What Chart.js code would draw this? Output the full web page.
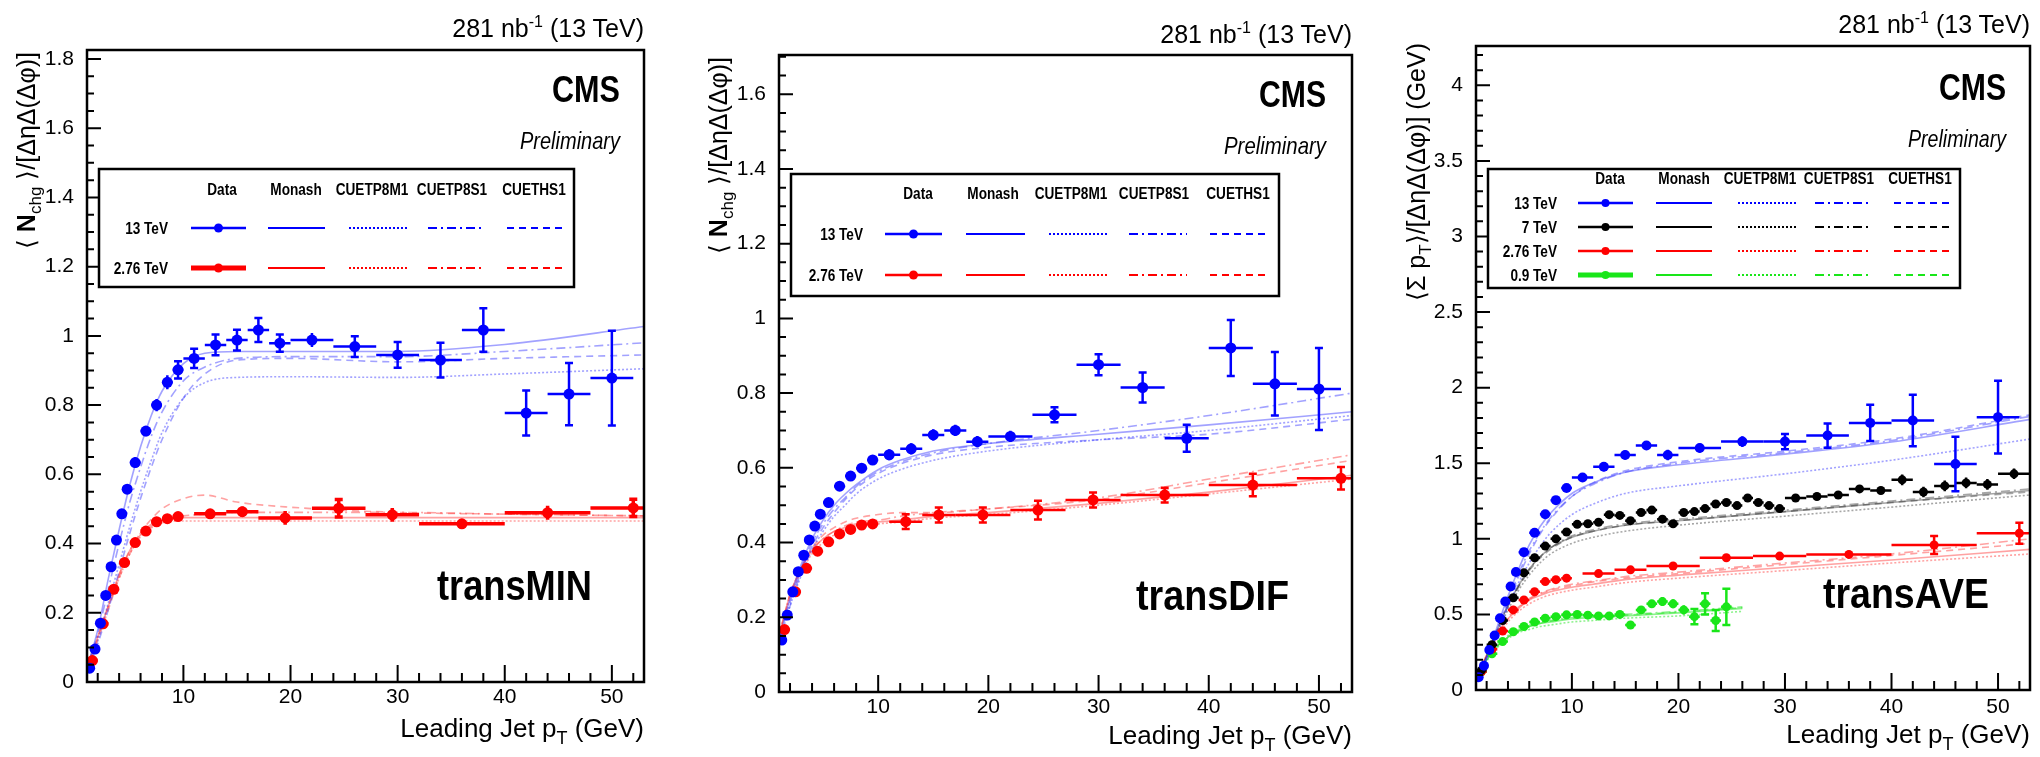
<!DOCTYPE html>
<html>
<head>
<meta charset="utf-8">
<title>CMS UE transMIN / transDIF / transAVE</title>
<script src="https://cdn.jsdelivr.net/npm/chart.js@4.4.1/dist/chart.umd.min.js"></script>
<style>
  html, body { margin: 0; padding: 0; background: #fff; }
  #page { position: relative; width: 2040px; height: 757px; overflow: hidden; background: #fff; }
  #page canvas { position: absolute; top: 0; }
  #overlay { position: absolute; left: 0; top: 0; pointer-events: none; }
  #overlay text { font-family: "Liberation Sans", Arial, Helvetica, sans-serif; fill: #000; }
</style>
</head>
<body>
<div id="page">
  <canvas id="transMin" width="680" height="757" style="left:0px"></canvas>
  <canvas id="transDif" width="680" height="757" style="left:680px"></canvas>
  <canvas id="transAve" width="680" height="757" style="left:1360px"></canvas>
  <svg id="overlay" width="2040" height="757" xmlns="http://www.w3.org/2000/svg">
    <!-- panel 1 -->
    <text x="644" y="37" font-size="25" text-anchor="end">281 nb<tspan dy="-10" font-size="16">-1</tspan><tspan dy="10"> (13 TeV)</tspan></text>
    <text x="620" y="102" font-size="36" font-weight="bold" text-anchor="end" textLength="68" lengthAdjust="spacingAndGlyphs">CMS</text>
    <text x="620" y="149" font-size="24" font-style="italic" text-anchor="end" textLength="100" lengthAdjust="spacingAndGlyphs">Preliminary</text>
    <text x="592" y="600" font-size="42" font-weight="bold" text-anchor="end" textLength="155" lengthAdjust="spacingAndGlyphs">transMIN</text>
    <text x="644" y="737" font-size="26" text-anchor="end">Leading Jet p<tspan font-size="18" dy="7">T</tspan><tspan dy="-7"> (GeV)</tspan></text>
    <text transform="translate(35,52) rotate(-90)" font-size="25" text-anchor="end">⟨ <tspan font-weight="bold">N</tspan><tspan font-size="17" dy="6">chg</tspan><tspan dy="-6"> ⟩/[ΔηΔ(Δφ)]</tspan></text>

    <!-- panel 2 -->
    <text x="1352" y="43" font-size="25" text-anchor="end">281 nb<tspan dy="-10" font-size="16">-1</tspan><tspan dy="10"> (13 TeV)</tspan></text>
    <text x="1326" y="107" font-size="36" font-weight="bold" text-anchor="end" textLength="67" lengthAdjust="spacingAndGlyphs">CMS</text>
    <text x="1326" y="154" font-size="24" font-style="italic" text-anchor="end" textLength="102" lengthAdjust="spacingAndGlyphs">Preliminary</text>
    <text x="1289" y="610" font-size="42" font-weight="bold" text-anchor="end" textLength="153" lengthAdjust="spacingAndGlyphs">transDIF</text>
    <text x="1352" y="744" font-size="26" text-anchor="end">Leading Jet p<tspan font-size="18" dy="7">T</tspan><tspan dy="-7"> (GeV)</tspan></text>
    <text transform="translate(727,57) rotate(-90)" font-size="25" text-anchor="end">⟨ <tspan font-weight="bold">N</tspan><tspan font-size="17" dy="6">chg</tspan><tspan dy="-6"> ⟩/[ΔηΔ(Δφ)]</tspan></text>

    <!-- panel 3 -->
    <text x="2030" y="33" font-size="25" text-anchor="end">281 nb<tspan dy="-10" font-size="16">-1</tspan><tspan dy="10"> (13 TeV)</tspan></text>
    <text x="2006" y="100" font-size="36" font-weight="bold" text-anchor="end" textLength="67" lengthAdjust="spacingAndGlyphs">CMS</text>
    <text x="2006" y="147" font-size="24" font-style="italic" text-anchor="end" textLength="98" lengthAdjust="spacingAndGlyphs">Preliminary</text>
    <text x="1989" y="608" font-size="42" font-weight="bold" text-anchor="end" textLength="166" lengthAdjust="spacingAndGlyphs">transAVE</text>
    <text x="2030" y="743" font-size="26" text-anchor="end">Leading Jet p<tspan font-size="18" dy="7">T</tspan><tspan dy="-7"> (GeV)</tspan></text>
    <text transform="translate(1425,43) rotate(-90)" font-size="25" text-anchor="end">⟨Σ p<tspan font-size="17" dy="6">T</tspan><tspan dy="-6">⟩/[ΔηΔ(Δφ)]  (GeV)</tspan></text>
  </svg>
</div>

<script>
"use strict";

// ---- x bins (leading jet pT, GeV) ----
var pt13 = [1.25, 1.75, 2.25, 2.75, 3.25, 3.75, 4.25, 4.75, 5.5, 6.5, 7.5, 8.5, 9.5, 11, 13, 15, 17, 19, 22, 26, 30, 34, 38, 42, 46, 50];
var halfW13 = [0.25, 0.25, 0.25, 0.25, 0.25, 0.25, 0.25, 0.25, 0.5, 0.5, 0.5, 0.5, 0.5, 1, 1, 1, 1, 1, 2, 2, 2, 2, 2, 2, 2, 2];
var pt276 = [1.5, 2.5, 3.5, 4.5, 5.5, 6.5, 7.5, 8.5, 9.5, 12.5, 15.5, 19.5, 24.5, 29.5, 36, 44, 52];
var halfW276 = [0.5, 0.5, 0.5, 0.5, 0.5, 0.5, 0.5, 0.5, 0.5, 1.5, 1.5, 2.5, 2.5, 2.5, 4, 4, 4];
var pt7 = [1.5, 2.5, 3.5, 4.5, 5.5, 6.5, 7.5, 8.5, 9.5, 10.5, 11.5, 12.5, 13.5, 14.5, 15.5, 16.5, 17.5, 18.5, 19.5, 20.5,
           21.5, 22.5, 23.5, 24.5, 25.5, 26.5, 27.5, 28.5, 29.5, 31, 33, 35, 37, 39, 41, 43, 45, 47, 49, 51.5];
var halfW7 = [0.5, 0.5, 0.5, 0.5, 0.5, 0.5, 0.5, 0.5, 0.5, 0.5, 0.5, 0.5, 0.5, 0.5, 0.5, 0.5, 0.5, 0.5, 0.5, 0.5,
              0.5, 0.5, 0.5, 0.5, 0.5, 0.5, 0.5, 0.5, 0.5, 1, 1, 1, 1, 1, 1, 1, 1, 1, 1, 1.5];
var pt09 = [1.5, 2.5, 3.5, 4.5, 5.5, 6.5, 7.5, 8.5, 9.5, 10.5, 11.5, 12.5, 13.5, 14.5, 15.5, 16.5, 17.5, 18.5, 19.5, 20.5, 21.5, 22.5, 23.5, 24.5];
var halfW09 = [0.5, 0.5, 0.5, 0.5, 0.5, 0.5, 0.5, 0.5, 0.5, 0.5, 0.5, 0.5, 0.5, 0.5, 0.5, 0.5, 0.5, 0.5, 0.5, 0.5, 0.5, 0.5, 0.5, 0.5];

// ---- transMIN data ----
var minVal13 = [0.04, 0.095, 0.17, 0.25, 0.333, 0.41, 0.486, 0.557, 0.634, 0.725, 0.80, 0.866, 0.902, 0.935, 0.974, 0.988, 1.017, 0.979, 0.988, 0.969, 0.945, 0.93, 1.017, 0.777, 0.832, 0.878];
var minErr13 = [0.005, 0.006, 0.008, 0.01, 0.01, 0.012, 0.012, 0.013, 0.015, 0.015, 0.018, 0.02, 0.025, 0.028, 0.03, 0.03, 0.035, 0.025, 0.02, 0.03, 0.037, 0.05, 0.063, 0.065, 0.09, 0.137];
var minVal276 = [0.062, 0.168, 0.268, 0.345, 0.403, 0.436, 0.463, 0.472, 0.478, 0.486, 0.492, 0.474, 0.502, 0.483, 0.457, 0.489, 0.503];
var minErr276 = [0.008, 0.01, 0.01, 0.012, 0.01, 0.01, 0.012, 0.012, 0.013, 0.013, 0.015, 0.02, 0.025, 0.02, 0.012, 0.02, 0.025];

// ---- transDIF data ----
var difVal13 = [0.139, 0.206, 0.268, 0.322, 0.366, 0.407, 0.444, 0.476, 0.507, 0.551, 0.578, 0.599, 0.621, 0.635, 0.651, 0.688, 0.70, 0.67, 0.684, 0.742, 0.876, 0.815, 0.679, 0.921, 0.825, 0.811];
var difErr13 = [0.005, 0.006, 0.008, 0.008, 0.01, 0.01, 0.01, 0.01, 0.012, 0.012, 0.012, 0.012, 0.012, 0.015, 0.015, 0.015, 0.015, 0.015, 0.015, 0.02, 0.028, 0.04, 0.036, 0.075, 0.085, 0.11];
var difVal276 = [0.167, 0.268, 0.331, 0.377, 0.402, 0.423, 0.435, 0.447, 0.45, 0.456, 0.474, 0.474, 0.487, 0.514, 0.527, 0.554, 0.572];
var difErr276 = [0.01, 0.01, 0.01, 0.01, 0.01, 0.01, 0.01, 0.01, 0.012, 0.02, 0.02, 0.02, 0.025, 0.02, 0.02, 0.03, 0.03];

// ---- transAVE data ----
var aveVal13 = [0.085, 0.16, 0.265, 0.36, 0.475, 0.585, 0.685, 0.78, 0.912, 1.04, 1.163, 1.256, 1.336, 1.406, 1.477, 1.555, 1.617, 1.555, 1.601, 1.643, 1.643, 1.683, 1.767, 1.783, 1.495, 1.805];
var aveErr13 = [0.005, 0.01, 0.01, 0.01, 0.015, 0.015, 0.015, 0.02, 0.02, 0.02, 0.02, 0.025, 0.025, 0.025, 0.03, 0.03, 0.03, 0.035, 0.03, 0.035, 0.05, 0.08, 0.12, 0.17, 0.18, 0.24];
var aveVal7 = [0.13, 0.30, 0.46, 0.61, 0.775, 0.875, 0.952, 1.0, 1.045, 1.096, 1.10, 1.11, 1.16, 1.155, 1.12, 1.174, 1.19, 1.13, 1.10, 1.174,
               1.18, 1.20, 1.23, 1.24, 1.22, 1.27, 1.24, 1.22, 1.20, 1.27, 1.28, 1.29, 1.33, 1.32, 1.39, 1.31, 1.35, 1.37, 1.36, 1.43];
var aveErr7 = [0.01, 0.01, 0.01, 0.01, 0.01, 0.01, 0.01, 0.01, 0.015, 0.015, 0.015, 0.015, 0.015, 0.015, 0.015, 0.015, 0.015, 0.015, 0.015, 0.015,
               0.02, 0.02, 0.02, 0.02, 0.02, 0.02, 0.02, 0.02, 0.02, 0.025, 0.025, 0.025, 0.025, 0.025, 0.035, 0.035, 0.035, 0.035, 0.035, 0.035];
var aveVal276 = [0.12, 0.27, 0.39, 0.53, 0.595, 0.65, 0.717, 0.73, 0.74, 0.77, 0.795, 0.82, 0.875, 0.886, 0.897, 0.959, 1.037];
var aveErr276 = [0.01, 0.01, 0.01, 0.01, 0.01, 0.015, 0.015, 0.015, 0.015, 0.02, 0.02, 0.02, 0.025, 0.025, 0.025, 0.06, 0.07];
var aveVal09 = [0.12, 0.24, 0.32, 0.385, 0.42, 0.45, 0.475, 0.485, 0.497, 0.50, 0.495, 0.49, 0.49, 0.50, 0.43, 0.53, 0.57, 0.585, 0.57, 0.53, 0.485, 0.57, 0.46, 0.55];
var aveErr09 = [0.01, 0.01, 0.01, 0.01, 0.01, 0.01, 0.01, 0.01, 0.015, 0.015, 0.015, 0.015, 0.015, 0.015, 0.02, 0.02, 0.02, 0.03, 0.03, 0.03, 0.05, 0.07, 0.07, 0.12];

// ---- MC predictions (Monash, CUETP8M1, CUETP8S1, CUETHS1) ----
var mcPt = [1, 2, 3, 4, 5, 6, 7, 8, 10, 12, 15, 20, 30, 40, 53];
var mcPt09 = [1, 2, 3, 4, 5, 6, 7, 8, 10, 12, 15, 20, 26];

var minMonash13 = [0.04, 0.15, 0.30, 0.44, 0.57, 0.68, 0.77, 0.84, 0.92, 0.95, 0.955, 0.955, 0.955, 0.975, 1.027];
var minM113 = [0.03, 0.12, 0.23, 0.34, 0.45, 0.55, 0.64, 0.72, 0.82, 0.865, 0.88, 0.882, 0.88, 0.89, 0.905];
var minS113 = [0.04, 0.14, 0.27, 0.40, 0.52, 0.62, 0.71, 0.78, 0.87, 0.91, 0.935, 0.94, 0.94, 0.955, 0.98];
var minHs113 = [0.03, 0.11, 0.21, 0.32, 0.43, 0.53, 0.62, 0.70, 0.82, 0.89, 0.93, 0.935, 0.925, 0.935, 0.945];
var minMonash276 = [0.04, 0.13, 0.22, 0.31, 0.38, 0.425, 0.45, 0.465, 0.475, 0.475, 0.475, 0.475, 0.475, 0.475, 0.475];
var minM1276 = [0.04, 0.13, 0.22, 0.30, 0.37, 0.42, 0.445, 0.46, 0.465, 0.465, 0.465, 0.465, 0.465, 0.465, 0.465];
var minS1276 = [0.04, 0.13, 0.22, 0.31, 0.38, 0.43, 0.455, 0.47, 0.48, 0.485, 0.49, 0.49, 0.49, 0.485, 0.48];
var minHs1276 = [0.04, 0.12, 0.21, 0.30, 0.37, 0.43, 0.47, 0.50, 0.53, 0.54, 0.52, 0.505, 0.49, 0.485, 0.48];

var difMonash13 = [0.14, 0.25, 0.34, 0.41, 0.46, 0.50, 0.53, 0.555, 0.595, 0.62, 0.645, 0.665, 0.69, 0.715, 0.75];
var difM113 = [0.13, 0.23, 0.31, 0.38, 0.43, 0.47, 0.50, 0.53, 0.57, 0.595, 0.62, 0.645, 0.675, 0.70, 0.74];
var difS113 = [0.14, 0.24, 0.33, 0.40, 0.45, 0.49, 0.52, 0.55, 0.59, 0.615, 0.64, 0.665, 0.70, 0.74, 0.80];
var difHs113 = [0.13, 0.23, 0.32, 0.39, 0.44, 0.48, 0.515, 0.545, 0.585, 0.61, 0.635, 0.655, 0.675, 0.69, 0.73];
var difMonash276 = [0.15, 0.26, 0.33, 0.38, 0.41, 0.43, 0.44, 0.45, 0.455, 0.46, 0.47, 0.48, 0.505, 0.535, 0.58];
var difM1276 = [0.15, 0.25, 0.32, 0.37, 0.40, 0.42, 0.435, 0.445, 0.45, 0.455, 0.465, 0.475, 0.50, 0.53, 0.57];
var difS1276 = [0.15, 0.26, 0.33, 0.38, 0.41, 0.43, 0.445, 0.455, 0.46, 0.47, 0.48, 0.49, 0.52, 0.57, 0.635];
var difHs1276 = [0.15, 0.26, 0.33, 0.385, 0.42, 0.44, 0.455, 0.465, 0.475, 0.48, 0.48, 0.49, 0.515, 0.56, 0.62];

var aveMonash13 = [0.08, 0.22, 0.42, 0.62, 0.80, 0.96, 1.08, 1.17, 1.30, 1.37, 1.44, 1.49, 1.56, 1.64, 1.79];
var aveM113 = [0.08, 0.20, 0.38, 0.55, 0.71, 0.84, 0.95, 1.04, 1.16, 1.23, 1.30, 1.35, 1.43, 1.52, 1.66];
var aveS113 = [0.08, 0.21, 0.40, 0.59, 0.77, 0.92, 1.04, 1.14, 1.28, 1.36, 1.44, 1.50, 1.57, 1.65, 1.81];
var aveHs113 = [0.08, 0.20, 0.38, 0.57, 0.75, 0.90, 1.03, 1.13, 1.28, 1.37, 1.45, 1.51, 1.58, 1.66, 1.82];
var aveMonash7 = [0.08, 0.22, 0.40, 0.56, 0.69, 0.80, 0.88, 0.94, 1.01, 1.05, 1.09, 1.12, 1.18, 1.24, 1.32];
var aveM17 = [0.08, 0.21, 0.38, 0.53, 0.66, 0.76, 0.84, 0.90, 0.97, 1.01, 1.05, 1.09, 1.15, 1.21, 1.29];
var aveS17 = [0.08, 0.22, 0.40, 0.56, 0.69, 0.80, 0.88, 0.94, 1.02, 1.06, 1.10, 1.13, 1.19, 1.25, 1.33];
var aveHs17 = [0.08, 0.21, 0.39, 0.55, 0.68, 0.79, 0.87, 0.93, 1.01, 1.05, 1.09, 1.12, 1.18, 1.24, 1.31];
var aveMonash276 = [0.09, 0.23, 0.37, 0.47, 0.54, 0.595, 0.625, 0.65, 0.68, 0.70, 0.73, 0.76, 0.81, 0.86, 0.93];
var aveM1276 = [0.09, 0.22, 0.35, 0.45, 0.52, 0.57, 0.605, 0.63, 0.66, 0.68, 0.71, 0.74, 0.79, 0.84, 0.90];
var aveS1276 = [0.09, 0.23, 0.38, 0.48, 0.55, 0.605, 0.64, 0.665, 0.70, 0.72, 0.75, 0.78, 0.84, 0.90, 1.00];
var aveHs1276 = [0.09, 0.23, 0.37, 0.47, 0.545, 0.60, 0.635, 0.66, 0.69, 0.715, 0.74, 0.77, 0.83, 0.89, 0.97];
var aveMonash09 = [0.09, 0.20, 0.29, 0.35, 0.39, 0.42, 0.44, 0.45, 0.47, 0.48, 0.49, 0.51, 0.54];
var aveM109 = [0.09, 0.19, 0.28, 0.34, 0.38, 0.40, 0.42, 0.43, 0.45, 0.46, 0.475, 0.49, 0.52];
var aveS109 = [0.09, 0.20, 0.29, 0.36, 0.40, 0.43, 0.45, 0.46, 0.48, 0.49, 0.50, 0.52, 0.55];
var aveHs109 = [0.09, 0.20, 0.29, 0.35, 0.39, 0.42, 0.44, 0.455, 0.475, 0.485, 0.495, 0.515, 0.545];

// ---- tick labels ----
var ptTicks = [10, 20, 30, 40, 50];
var minYTicks = [0, 0.2, 0.4, 0.6, 0.8, 1, 1.2, 1.4, 1.6, 1.8];
var difYTicks = [0, 0.2, 0.4, 0.6, 0.8, 1, 1.2, 1.4, 1.6];
var aveYTicks = [0, 0.5, 1, 1.5, 2, 2.5, 3, 3.5, 4];

var tuneNames = ["Data", "Monash", "CUETP8M1", "CUETP8S1", "CUETHS1"];

var BLUE = "#0000ff", RED = "#ff0000", BLACK = "#000000", GREEN = "#19e619";
var FONT = "'Liberation Sans', Arial, Helvetica, sans-serif";
var DASH = { solid: [], dotted: [2, 2], dashdot: [9, 4, 2, 4], dashed: [7, 5] };

function points(xs, ys) {
    return xs.map(function (x, i) { return { x: x, y: ys[i] }; });
}

function dataSet(color, xs, ys, xErr, yErr, radius, barWidth) {
    return {
        type: "scatter",
        data: points(xs, ys),
        xErr: xErr,
        yErr: yErr,
        barWidth: barWidth,
        backgroundColor: color,
        borderColor: color,
        pointRadius: radius,
        pointBorderWidth: 0,
        order: 1
    };
}

function mcSet(color, xs, ys, dash) {
    return {
        type: "line",
        data: points(xs, ys),
        borderColor: color,
        borderWidth: 1.6,
        borderDash: dash,
        pointRadius: 0,
        cubicInterpolationMode: "monotone",
        showLine: true,
        fill: false,
        order: 2
    };
}

function mcGroup(color, xs, monash, m1, s1, hs1) {
    return [
        mcSet(color, xs, monash, DASH.solid),
        mcSet(color, xs, m1, DASH.dotted),
        mcSet(color, xs, s1, DASH.dashdot),
        mcSet(color, xs, hs1, DASH.dashed)
    ];
}

// error bars drawn just before the markers of each data set
var errorBars = {
    id: "errorBars",
    beforeDatasetDraw: function (chart, args) {
        var ds = chart.data.datasets[args.index];
        if (!ds.yErr) return;
        var xs = chart.scales.x, ys = chart.scales.y, a = chart.chartArea, ctx = chart.ctx;
        ctx.save();
        ctx.beginPath();
        ctx.rect(a.left, a.top, a.right - a.left, a.bottom - a.top);
        ctx.clip();
        ctx.strokeStyle = ds.borderColor;
        ctx.lineWidth = ds.barWidth;
        ds.data.forEach(function (p, i) {
            var px = xs.getPixelForValue(p.x), py = ys.getPixelForValue(p.y);
            var y0 = ys.getPixelForValue(p.y - ds.yErr[i]), y1 = ys.getPixelForValue(p.y + ds.yErr[i]);
            ctx.beginPath();
            ctx.moveTo(xs.getPixelForValue(p.x - ds.xErr[i]), py);
            ctx.lineTo(xs.getPixelForValue(p.x + ds.xErr[i]), py);
            ctx.moveTo(px, y0);
            ctx.lineTo(px, y1);
            if (y0 - y1 > 14) {
                ctx.moveTo(px - 4, y0); ctx.lineTo(px + 4, y0);
                ctx.moveTo(px - 4, y1); ctx.lineTo(px + 4, y1);
            }
            ctx.stroke();
        });
        ctx.restore();
    }
};

// ROOT style frame with inward ticks
var rootFrame = {
    id: "rootFrame",
    afterDraw: function (chart) {
        var o = chart.options.plugins.rootFrame;
        var a = chart.chartArea, ctx = chart.ctx, xs = chart.scales.x, ys = chart.scales.y;
        ctx.save();
        ctx.strokeStyle = "#000";
        ctx.lineWidth = 2.5;
        ctx.strokeRect(a.left, a.top, a.right - a.left, a.bottom - a.top);
        ctx.lineWidth = 2;
        ctx.beginPath();
        for (var v = 2; v <= xs.max; v += 2) {
            var px = xs.getPixelForValue(v);
            ctx.moveTo(px, a.bottom);
            ctx.lineTo(px, a.bottom - (v % 10 === 0 ? 17 : 9));
        }
        var per = Math.round(o.majorY / o.minorY);
        for (var k = 0; k * o.minorY <= ys.max; k++) {
            var py = ys.getPixelForValue(k * o.minorY);
            ctx.moveTo(a.left, py);
            ctx.lineTo(a.left + (k % per === 0 ? 14 : 7), py);
        }
        ctx.stroke();
        ctx.restore();
    }
};

function makePanel(id, box, yMax, yTicks, minorY, majorY, datasets) {
    return new Chart(document.getElementById(id), {
        type: "scatter",
        data: { datasets: datasets },
        options: {
            responsive: false,
            animation: false,
            events: [],
            layout: { padding: { left: 0, top: box.top, right: box.right, bottom: box.bottom } },
            plugins: {
                legend: { display: false },
                tooltip: { enabled: false },
                rootFrame: { minorY: minorY, majorY: majorY }
            },
            scales: {
                x: {
                    type: "linear", min: 1, max: 53,
                    grid: { display: false }, border: { display: false },
                    afterBuildTicks: function (s) { s.ticks = ptTicks.map(function (v) { return { value: v }; }); },
                    afterFit: function (s) { s.height = 40; },
                    ticks: {
                        autoSkip: false, maxRotation: 0, padding: box.xPad, color: "#000",
                        font: { family: FONT, size: 21 },
                        callback: function (v) { return String(v); }
                    }
                },
                y: {
                    type: "linear", min: 0, max: yMax,
                    grid: { display: false }, border: { display: false },
                    afterBuildTicks: function (s) { s.ticks = yTicks.map(function (v) { return { value: v }; }); },
                    afterFit: function (s) { s.width = box.yWidth; },
                    ticks: {
                        autoSkip: false, padding: 5, color: "#000",
                        font: { family: FONT, size: 21 },
                        callback: function (v) { return String(+v.toFixed(2)); }
                    }
                }
            }
        },
        plugins: [errorBars, rootFrame]
    });
}

makePanel("transMin", { top: 50, right: 36, bottom: 35, yWidth: 87, xPad: -5 }, 1.826, minYTicks, 0.05, 0.2,
    [dataSet(BLUE, pt13, minVal13, halfW13, minErr13, 5.5, 2.5),
     dataSet(RED, pt276, minVal276, halfW276, minErr276, 5.5, 3.5)]
    .concat(mcGroup("rgba(70,70,255,0.5)", mcPt, minMonash13, minM113, minS113, minHs113))
    .concat(mcGroup("rgba(255,70,70,0.5)", mcPt, minMonash276, minM1276, minS1276, minHs1276)));

makePanel("transDif", { top: 55, right: 8, bottom: 25, yWidth: 99, xPad: -5 }, 1.705, difYTicks, 0.05, 0.2,
    [dataSet(BLUE, pt13, difVal13, halfW13, difErr13, 5.5, 2.5),
     dataSet(RED, pt276, difVal276, halfW276, difErr276, 5.5, 2.5)]
    .concat(mcGroup("rgba(70,70,255,0.5)", mcPt, difMonash13, difM113, difS113, difHs113))
    .concat(mcGroup("rgba(255,70,70,0.5)", mcPt, difMonash276, difM1276, difS1276, difHs1276)));

makePanel("transAve", { top: 46, right: 10, bottom: 27, yWidth: 116, xPad: -3 }, 4.26, aveYTicks, 0.1, 0.5,
    [dataSet(BLUE, pt13, aveVal13, halfW13, aveErr13, 5, 2.5),
     dataSet(BLACK, pt7, aveVal7, halfW7, aveErr7, 4.5, 2.5),
     dataSet(RED, pt276, aveVal276, halfW276, aveErr276, 4.5, 2.5),
     dataSet(GREEN, pt09, aveVal09, halfW09, aveErr09, 4.5, 2.5)]
    .concat(mcGroup("rgba(70,70,255,0.5)", mcPt, aveMonash13, aveM113, aveS113, aveHs113))
    .concat(mcGroup("rgba(0,0,0,0.35)", mcPt, aveMonash7, aveM17, aveS17, aveHs17))
    .concat(mcGroup("rgba(255,70,70,0.5)", mcPt, aveMonash276, aveM1276, aveS1276, aveHs1276))
    .concat(mcGroup("rgba(25,230,25,0.5)", mcPt09, aveMonash09, aveM109, aveS109, aveHs109)));

// ---- legends (ROOT style table) ----
var SVGNS = "http://www.w3.org/2000/svg";
function svgEl(tag, attrs, text) {
    var el = document.createElementNS(SVGNS, tag);
    Object.keys(attrs).forEach(function (k) { el.setAttribute(k, attrs[k]); });
    if (text !== undefined) el.textContent = text;
    document.getElementById("overlay").appendChild(el);
    return el;
}

// condensed bold label, like the ROOT legend font
function squeezed(attrs, text) {
    attrs["font-size"] = 16;
    attrs["font-weight"] = "bold";
    var el = svgEl("text", attrs, text);
    el.setAttribute("textLength", (el.getComputedTextLength() * 0.85).toFixed(1));
    el.setAttribute("lengthAdjust", "spacingAndGlyphs");
    return el;
}

var svgDash = ["", "", "2,2", "9,4,2,4", "7,5"];

function drawLegend(lg) {
    svgEl("rect", { x: lg.x0, y: lg.y0, width: lg.x1 - lg.x0, height: lg.y1 - lg.y0, fill: "#fff", stroke: "#000", "stroke-width": 2.5 });
    tuneNames.forEach(function (name, c) {
        squeezed({ x: lg.cols[c], y: lg.headY, "text-anchor": "middle" }, name);
    });
    lg.rows.forEach(function (r) {
        squeezed({ x: lg.labelX, y: r.y + 6, "text-anchor": "end" }, r.label);
        lg.samples.forEach(function (s, c) {
            var attrs = { x1: s[0], x2: s[1], y1: r.y, y2: r.y, stroke: r.color, "stroke-width": c === 0 ? (r.w || 2.5) : 2.2 };
            if (svgDash[c]) attrs["stroke-dasharray"] = svgDash[c];
            svgEl("line", attrs);
            if (c === 0) svgEl("circle", { cx: (s[0] + s[1]) / 2, cy: r.y, r: lg.r, fill: r.color });
        });
    });
}

drawLegend({
    x0: 99, y0: 169, x1: 574, y1: 287, headY: 195, labelX: 168, r: 4.5,
    cols: [222, 296, 372, 452, 534],
    samples: [[191, 246], [268, 325], [349, 408], [428, 485], [507, 563]],
    rows: [{ label: "13 TeV", color: BLUE, y: 228 }, { label: "2.76 TeV", color: RED, y: 268, w: 5 }]
});
drawLegend({
    x0: 791, y0: 174, x1: 1279, y1: 296, headY: 199, labelX: 863, r: 4.5,
    cols: [918, 993, 1071, 1154, 1238],
    samples: [[885, 942], [966, 1025], [1049, 1108], [1129, 1187], [1210, 1267]],
    rows: [{ label: "13 TeV", color: BLUE, y: 234 }, { label: "2.76 TeV", color: RED, y: 275 }]
});
drawLegend({
    x0: 1488, y0: 169, x1: 1960, y1: 288, headY: 184, labelX: 1557, r: 4,
    cols: [1610, 1684, 1760, 1839, 1920],
    samples: [[1578, 1633], [1656, 1712], [1738, 1796], [1815, 1872], [1894, 1950]],
    rows: [{ label: "13 TeV", color: BLUE, y: 203 }, { label: "7 TeV", color: BLACK, y: 227 },
           { label: "2.76 TeV", color: RED, y: 251 }, { label: "0.9 TeV", color: GREEN, y: 275, w: 5 }]
});
</script>
</body>
</html>
